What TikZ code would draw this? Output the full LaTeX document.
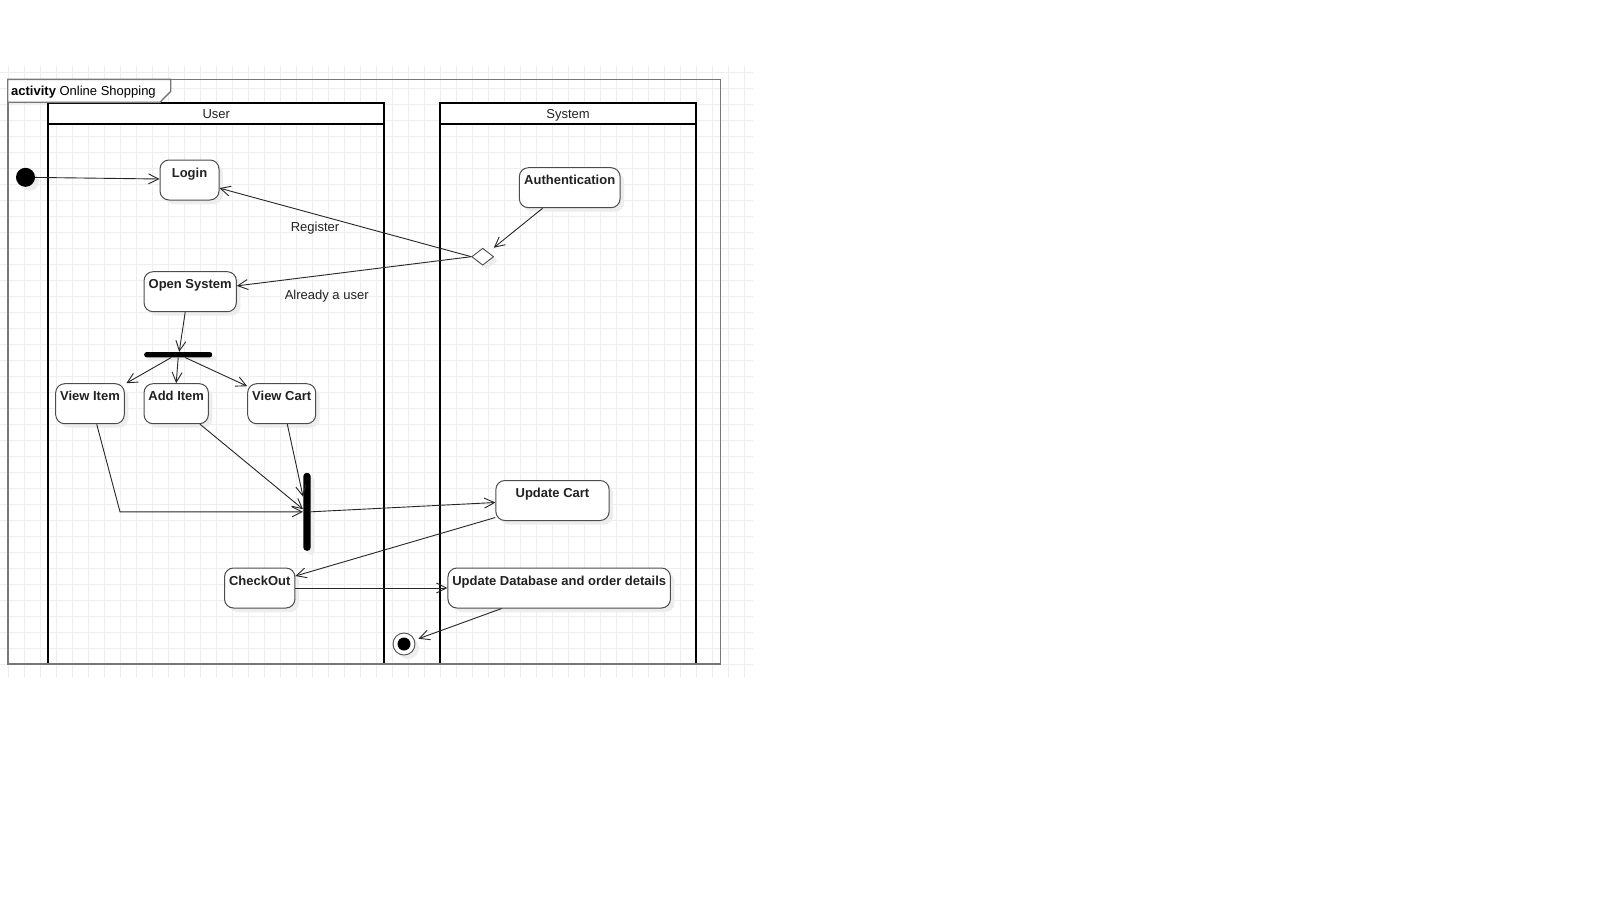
\documentclass[tikz,border=0pt]{standalone}
\usepackage{fontspec}
\setmainfont{Liberation Sans}
\usetikzlibrary{arrows.meta,shapes.geometric,shadows}

\definecolor{gridcolor}{rgb}{0.935,0.935,0.935}
\definecolor{framecolor}{rgb}{0.470,0.470,0.470}
\definecolor{boxcolor}{rgb}{0.300,0.300,0.300}
\definecolor{edgecolor}{rgb}{0.150,0.150,0.150}
\definecolor{textcolor}{rgb}{0.130,0.130,0.130}

\tikzset{
  gridline/.style={draw=gridcolor, line width=1pt},
  lane/.style={draw=black, line width=2pt},
  txt/.style={font=\fontsize{13}{15}\selectfont, text=textcolor, inner sep=0pt, anchor=base},
  softshadow/.style={general shadow={fill=black!7, shadow xshift=4pt, shadow yshift=-4pt}},
  actbox/.style={softshadow, draw=boxcolor, fill=white, line width=1pt, rounded corners=9pt,
    inner xsep=0pt, inner ysep=0pt, text height=17pt, text depth=23pt,
    font=\fontsize{13}{15}\selectfont\bfseries, text=textcolor},
  syncbar/.style={softshadow, fill=black, inner sep=0pt, rounded corners=2.5pt},
  decision/.style={softshadow, diamond, draw=boxcolor, fill=white, line width=0.9pt,
    minimum width=22pt, minimum height=17pt, inner sep=0pt},
  startdot/.style={softshadow, circle, fill=black, minimum size=19pt, inner sep=0pt},
  enddot/.style={softshadow, circle, draw=boxcolor, fill=white, line width=0.9pt,
    minimum size=22pt, inner sep=0pt},
  flow/.style={draw=edgecolor, line width=0.9pt, -{Straight Barb[length=10pt,width=10pt]}},
}

\begin{document}
\begin{tikzpicture}[x=1pt,y=-1pt]
\useasboundingbox (0,0) rectangle (1600,900);
\fill[white] (0,0) rectangle (1600,900);

% grid
\foreach \gx in {0,...,46}
  \draw[gridline] ({8.3+16*\gx},65) -- ({8.3+16*\gx},678);
\foreach \gy in {0,...,37}
  \draw[gridline] (0,{72.3+16*\gy}) -- (753,{72.3+16*\gy});

% swimlanes
\filldraw[lane, fill=white] (48.3,103.3) rectangle (384.3,124.3);
\draw[lane] (48.3,663.7) -- (48.3,103.3) -- (384.3,103.3) -- (384.3,663.7);
\node[txt] (huser) at (216.3,118) {User};
\filldraw[lane, fill=white] (440,103.3) rectangle (696,124.3);
\draw[lane] (440,663.7) -- (440,103.3) -- (696,103.3) -- (696,663.7);
\node[txt] (hsys) at (568,118) {System};

% frame
\draw[draw=framecolor, line width=1.6pt] (7.7,79.3) rectangle (720.3,663.7);
\filldraw[draw=framecolor, fill=white, line width=1.4pt] (7.7,79.3) -- (170.7,79.3) -- (170.7,91.3) -- (160,102.3) -- (7.7,102.3) -- cycle;
\node[txt, anchor=base west, text=black] (title) at (11,95.5) {\textbf{activity} Online Shopping};

% nodes
\node[startdot] (init) at (25.5,177.3) {};
\node[actbox, minimum width=59pt] (login) at (189.5,180) {Login};
\node[actbox, minimum width=100.7pt] (auth) at (569.7,187.7) {Authentication};
\node[decision] (dec) at (482.7,256.7) {};
\node[actbox, minimum width=92.3pt] (opensys) at (190.2,291.7) {Open System};
\node[syncbar, minimum width=68pt, minimum height=5.3pt] (fork) at (178.2,354.7) {};
\node[actbox, minimum width=68.6pt] (vitem) at (90,403.7) {View Item};
\node[actbox, minimum width=64.3pt] (additem) at (176.2,403.7) {Add Item};
\node[actbox, minimum width=68pt] (vcart) at (281.7,403.7) {View Cart};
\node[syncbar, minimum width=7.4pt, minimum height=78pt, rounded corners=3.5pt] (join) at (307,511.8) {};
\node[actbox, minimum width=113.3pt] (ucart) at (552.5,500.5) {Update Cart};
\node[actbox, minimum width=70.4pt] (checkout) at (259.7,588) {CheckOut};
\node[actbox, minimum width=222.5pt] (updb) at (559.2,588) {Update Database and order details};
\node[enddot] (final) at (404,644) {};
\fill[black] (final) circle (6.5pt);

\node[txt] (lreg) at (315,231.7) {Register};
\node[txt] (lusr) at (326.7,299) {Already a user};

% flows
\draw[flow] (init) -- ([yshift=1pt]login.west);
\draw[flow, shorten >=7pt] ([xshift=-27pt]auth.south) -- (dec);
\draw[flow] (dec.west) -- (login);
\draw[flow] (dec.west) -- (opensys);
\draw[flow] ([xshift=-5pt]opensys.south) -- ([xshift=1pt]fork.north);
\draw[flow] ([xshift=-7pt]fork.south) -- ([xshift=1.5pt]vitem.north east);
\draw[flow] (fork.south) -- (additem.north);
\draw[flow] ([xshift=7pt]fork.south) -- ([yshift=-3pt]vcart.north west);
\coordinate (vibend) at (120,511.8);
\draw[flow] ([xshift=6.7pt]vitem.south) -- (vibend) -- (join.west);
\draw[flow] ([xshift=23.8pt]additem.south) -- ([yshift=2.5pt]join.west);
\draw[flow] ([xshift=5.6pt]vcart.south) -- ([yshift=15pt]join.west);
\draw[flow] (join.east) -- ([yshift=-2pt]ucart.west);
\draw[flow] ([yshift=-17pt]ucart.west) -- ([yshift=12pt]checkout.east);
\draw[flow] (checkout.east) -- (updb.west);
\draw[flow, shorten >=4pt] ([xshift=-57.5pt]updb.south) -- (final);
\end{tikzpicture}
\end{document}
